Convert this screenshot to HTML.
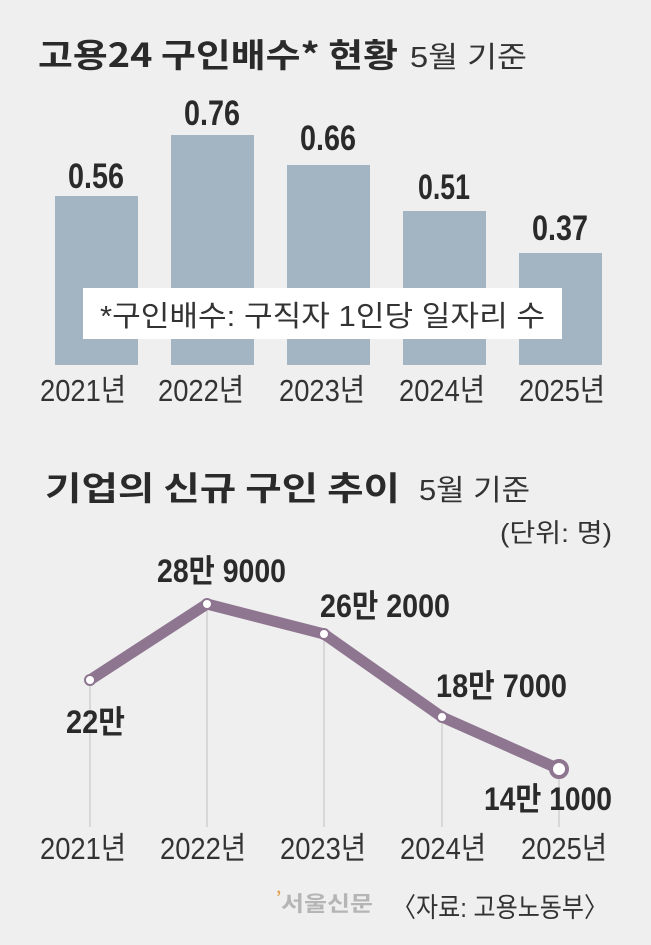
<!DOCTYPE html>
<html><head><meta charset="utf-8"><style>
html,body{margin:0;padding:0;background:#efefef;}
svg{display:block;}
text{font-family:"Liberation Sans Narrow","Liberation Sans","Noto Sans CJK KR",sans-serif;fill:#2a2a2a;}
.t{font-family:"Noto Sans CJK KR","Liberation Sans",sans-serif;font-weight:700;}
.v{font-weight:700;font-size:35px;}
.w{font-weight:700;font-size:32px;}
.y{font-size:31px;fill:#333;}
.k{font-family:"Liberation Sans","Noto Sans CJK KR",sans-serif;}
</style></head><body>
<svg width="651" height="945" viewBox="0 0 651 945" xmlns="http://www.w3.org/2000/svg">
<rect width="651" height="945" fill="#efefef"/>
<text class="t" x="38" y="67" font-size="33" textLength="360" lengthAdjust="spacingAndGlyphs">고용24 구인배수* 현황</text>
<text class="k" x="410" y="67" font-size="29" textLength="117" lengthAdjust="spacingAndGlyphs" style="fill:#333">5월 기준</text>
<g fill="#a3b4c2">
<rect x="55" y="196" width="83" height="169"/>
<rect x="171" y="135" width="83" height="230"/>
<rect x="287" y="165" width="83" height="200"/>
<rect x="403" y="211" width="83" height="154"/>
<rect x="519" y="253" width="83" height="112"/>
</g>
<g text-anchor="middle">
<text class="v" x="96" y="188" textLength="56" lengthAdjust="spacingAndGlyphs">0.56</text>
<text class="v" x="212" y="125" textLength="56" lengthAdjust="spacingAndGlyphs">0.76</text>
<text class="v" x="328" y="150" textLength="56" lengthAdjust="spacingAndGlyphs">0.66</text>
<text class="v" x="444" y="199" textLength="52" lengthAdjust="spacingAndGlyphs">0.51</text>
<text class="v" x="560" y="240" textLength="56" lengthAdjust="spacingAndGlyphs">0.37</text>
</g>
<rect x="83" y="288" width="479" height="51" fill="#fff"/>
<text class="k" x="100" y="326" font-size="29" textLength="445" lengthAdjust="spacingAndGlyphs" style="fill:#333">*구인배수: 구직자 1인당 일자리 수</text>
<g text-anchor="middle">
<text class="y" x="83" y="401" textLength="86" lengthAdjust="spacingAndGlyphs">2021년</text>
<text class="y" x="201" y="401" textLength="86" lengthAdjust="spacingAndGlyphs">2022년</text>
<text class="y" x="322" y="401" textLength="86" lengthAdjust="spacingAndGlyphs">2023년</text>
<text class="y" x="442" y="401" textLength="86" lengthAdjust="spacingAndGlyphs">2024년</text>
<text class="y" x="562" y="401" textLength="86" lengthAdjust="spacingAndGlyphs">2025년</text>
</g>
<text class="t" x="45" y="500" font-size="33" textLength="355" lengthAdjust="spacingAndGlyphs">기업의 신규 구인 추이</text>
<text class="k" x="419" y="500" font-size="29" textLength="111" lengthAdjust="spacingAndGlyphs" style="fill:#333">5월 기준</text>
<text class="k" x="500" y="542" font-size="26" textLength="112" lengthAdjust="spacingAndGlyphs" style="fill:#333">(단위: 명)</text>
<g stroke="#d8d8d8" stroke-width="2">
<line x1="90" y1="680" x2="90" y2="827"/>
<line x1="207" y1="604" x2="207" y2="827"/>
<line x1="324" y1="634" x2="324" y2="827"/>
<line x1="442" y1="717" x2="442" y2="827"/>
<line x1="559" y1="769" x2="559" y2="827"/>
</g>
<polyline points="90,680 207,604 324,634 442,717 559,769" fill="none" stroke="#8e7590" stroke-width="11" stroke-linejoin="round"/>
<g fill="#fff" stroke="#8e7590" stroke-width="2">
<circle cx="90" cy="680" r="5"/><circle cx="207" cy="604" r="5"/><circle cx="324" cy="634" r="5"/><circle cx="442" cy="717" r="5"/>
<circle cx="559" cy="769" r="8" stroke-width="4"/>
</g>
<text class="w" x="157" y="582" textLength="129" lengthAdjust="spacingAndGlyphs">28만 9000</text>
<text class="w" x="320" y="617" textLength="130" lengthAdjust="spacingAndGlyphs">26만 2000</text>
<text class="w" x="66" y="733" textLength="59" lengthAdjust="spacingAndGlyphs">22만</text>
<text class="w" x="436" y="697" textLength="131" lengthAdjust="spacingAndGlyphs">18만 7000</text>
<text class="w" x="484" y="810" textLength="128" lengthAdjust="spacingAndGlyphs">14만 1000</text>
<g text-anchor="middle">
<text class="y" x="83" y="859" textLength="86" lengthAdjust="spacingAndGlyphs">2021년</text>
<text class="y" x="203" y="859" textLength="86" lengthAdjust="spacingAndGlyphs">2022년</text>
<text class="y" x="323" y="859" textLength="86" lengthAdjust="spacingAndGlyphs">2023년</text>
<text class="y" x="443" y="859" textLength="86" lengthAdjust="spacingAndGlyphs">2024년</text>
<text class="y" x="564" y="859" textLength="86" lengthAdjust="spacingAndGlyphs">2025년</text>
</g>
<text class="t" x="276" y="903" font-size="16" style="fill:#e0a050">’</text>
<text class="t" x="281" y="911" font-size="21" style="fill:#b5b5b5" textLength="92" lengthAdjust="spacingAndGlyphs">서울신문</text>
<text class="k" x="392" y="917" font-size="27" textLength="216" lengthAdjust="spacingAndGlyphs" style="fill:#333">〈자료: 고용노동부〉</text>
</svg>
</body></html>
